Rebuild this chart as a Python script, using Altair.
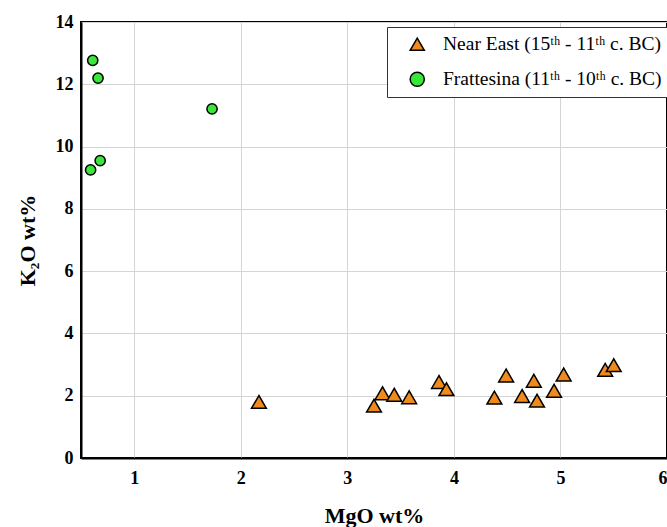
import altair as alt
import pandas as pd

near_east_mgo = [2.17, 3.25, 3.33, 3.44, 3.58, 3.86, 3.93, 4.38, 4.49, 4.64, 4.75, 4.78, 4.94, 5.03, 5.42, 5.50]
near_east_k2o = [1.80, 1.68, 2.08, 2.03, 1.95, 2.44, 2.21, 1.94, 2.65, 1.99, 2.48, 1.84, 2.16, 2.68, 2.83, 2.98]
frattesina_mgo = [0.61, 0.66, 1.73, 0.59, 0.68]
frattesina_k2o = [12.77, 12.20, 11.21, 9.25, 9.55]

groups = ["Near East (15ᵗʰ - 11ᵗʰ c. BC)", "Frattesina (11ᵗʰ - 10ᵗʰ c. BC)"]
x_ticks = [1, 2, 3, 4, 5, 6]
y_ticks = [0, 2, 4, 6, 8, 10, 12, 14]

df = pd.concat([
    pd.DataFrame({"mgo": near_east_mgo, "k2o": near_east_k2o, "group": groups[0]}),
    pd.DataFrame({"mgo": frattesina_mgo, "k2o": frattesina_k2o, "group": groups[1]}),
])

serif = "Liberation Serif, Times New Roman, serif"
legend = alt.Legend(
    title=None, orient="none", legendX=306, legendY=5,
    fillColor="white", strokeColor="#333333",
    padding=7.5, symbolOffset=13, labelOffset=16, rowPadding=14, labelLimit=0,
    labelFont=serif, labelFontSize=19.5, labelColor="black",
    symbolStrokeColor="black", symbolStrokeWidth=1.5, symbolSize=200,
)

chart = alt.Chart(df).mark_point(filled=True, stroke="black", strokeWidth=1.5, opacity=1).encode(
    x=alt.X("mgo:Q", scale=alt.Scale(domain=[0.5, 6], nice=False, zero=False),
            axis=alt.Axis(values=x_ticks, title="MgO wt%", labelPadding=11, titlePadding=18,
                          labelFont=serif, titleFont=serif)),
    y=alt.Y("k2o:Q", scale=alt.Scale(domain=[0, 14], nice=False),
            axis=alt.Axis(values=y_ticks, title="K₂O wt%", labelPadding=8, titlePadding=16,
                          labelFont=serif, titleFont=serif)),
    fill=alt.Fill("group:N", scale=alt.Scale(domain=groups, range=["#ef8a1c", "#3ae63a"]), legend=legend),
    stroke=alt.Stroke("group:N", scale=alt.Scale(domain=groups, range=["black", "black"]), legend=legend),
    shape=alt.Shape("group:N", scale=alt.Scale(domain=groups, range=["triangle-up", "circle"]), legend=legend),
    size=alt.condition(alt.datum.group == groups[0], alt.value(220), alt.value(105)),
).properties(
    width=586, height=436,
    autosize=alt.AutoSizeParams(type="none"),
    padding={"left": 81, "top": 22, "right": 0, "bottom": 69},
).configure(
    font=serif
).configure_view(
    stroke="black", strokeWidth=2
).configure_legend(
    strokeWidth=1, symbolStrokeColor="black", symbolStrokeWidth=1.5, labelFont=serif
).configure_axis(
    domainColor="black", domainWidth=2, ticks=False,
    gridColor="#d4d4d4", gridWidth=1,
    labelFont=serif, labelFontSize=18, labelFontWeight="bold", labelColor="black",
    titleFont=serif, titleFontSize=22, titleFontWeight="bold", titleColor="black",
)

chart.save("out.html", embed_options={"renderer": "svg", "actions": False})
